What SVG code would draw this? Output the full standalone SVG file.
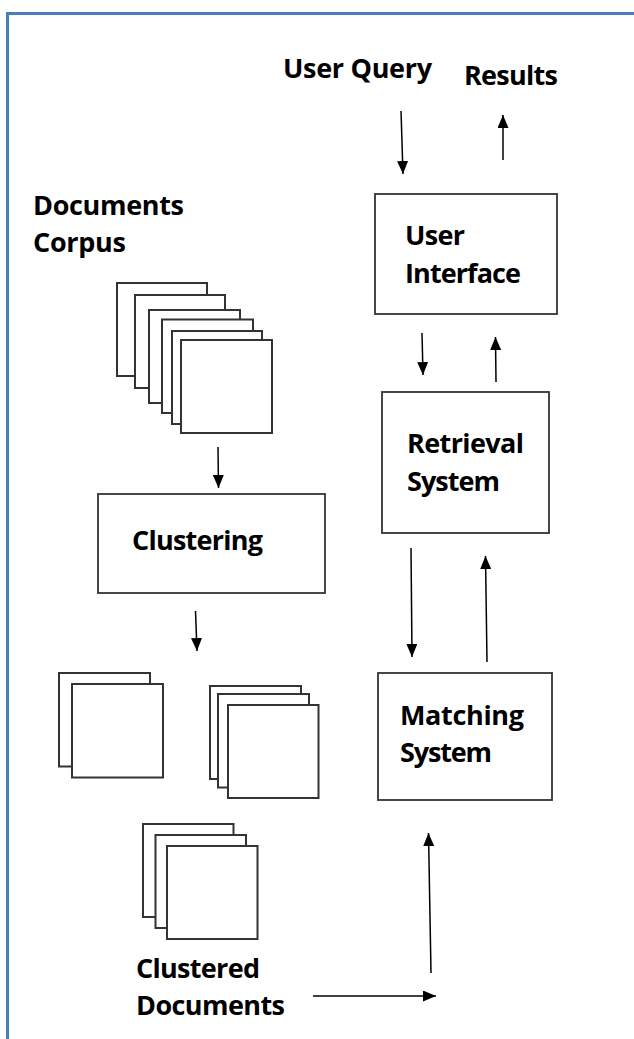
<svg xmlns="http://www.w3.org/2000/svg" width="634" height="1039" viewBox="0 0 634 1039">
  <style>
    .box { fill: #ffffff; stroke: #333333; stroke-width: 1.8; }
    .sheet { fill: #ffffff; stroke: #333333; stroke-width: 2; }
    .lbl { font-family: "Open Sans", "Liberation Sans", sans-serif; font-weight: 700; font-size: 27px; fill: #000000; }
    .arrow { stroke: #000000; stroke-width: 1.5; fill: none; marker-end: url(#head); }
  </style>
  <defs>
    <marker id="head" markerUnits="userSpaceOnUse" markerWidth="13" markerHeight="11" refX="13" refY="5.5" orient="auto">
      <path d="M0,0 L13,5.5 L0,11 z" fill="#000000"/>
    </marker>
  </defs>

  <rect x="0" y="0" width="634" height="1039" fill="#ffffff"/>
  <!-- frame (top and left edges only) -->
  <path d="M7.5,1039 L7.5,13.5 L634,13.5" fill="none" stroke="#4a7ebb" stroke-width="3"/>

  <!-- top labels -->
  <g id="user-query">
    <text class="lbl" x="283" y="78" textLength="149">User Query</text>
  </g>
  <g id="results">
    <text class="lbl" x="464" y="85" textLength="94">Results</text>
  </g>

  <!-- document corpus -->
  <g id="documents-corpus">
    <text class="lbl" x="33" y="215" textLength="151">Documents</text>
    <text class="lbl" x="33" y="252" textLength="93">Corpus</text>
    <rect class="sheet" x="117" y="283" width="90" height="93"/>
    <rect class="sheet" x="135" y="295" width="90" height="93"/>
    <rect class="sheet" x="149" y="310" width="91" height="93"/>
    <rect class="sheet" x="162" y="319.5" width="91" height="93.5"/>
    <rect class="sheet" x="172" y="331" width="90" height="93"/>
    <rect class="sheet" x="181" y="340" width="91" height="93"/>
  </g>

  <g id="clustering">
    <rect class="box" x="98" y="494" width="227" height="99"/>
    <text class="lbl" x="132" y="550" textLength="131">Clustering</text>
  </g>

  <!-- clustered document groups -->
  <g id="cluster-a">
    <rect class="sheet" x="59" y="673" width="91" height="93.5"/>
    <rect class="sheet" x="72" y="684" width="91" height="93.5"/>
  </g>
  <g id="cluster-b">
    <rect class="sheet" x="210" y="686" width="91" height="93"/>
    <rect class="sheet" x="218" y="694" width="91" height="93.5"/>
    <rect class="sheet" x="228" y="705" width="90.5" height="93"/>
  </g>
  <g id="cluster-c">
    <rect class="sheet" x="143" y="824" width="90.5" height="93"/>
    <rect class="sheet" x="155.5" y="835" width="90.5" height="93"/>
    <rect class="sheet" x="167" y="846" width="90.5" height="93"/>
  </g>
  <g id="clustered-documents">
    <text class="lbl" x="136" y="978" textLength="124">Clustered</text>
    <text class="lbl" x="136" y="1015" textLength="149">Documents</text>
  </g>

  <!-- retrieval side -->
  <g id="user-interface">
    <rect class="box" x="375" y="194" width="182" height="120"/>
    <text class="lbl" x="405" y="245" textLength="60">User</text>
    <text class="lbl" x="405" y="283" textLength="116">Interface</text>
  </g>
  <g id="retrieval-system">
    <rect class="box" x="382" y="392" width="167" height="141"/>
    <text class="lbl" x="407" y="453" textLength="117">Retrieval</text>
    <text class="lbl" x="407" y="491" textLength="93">System</text>
  </g>
  <g id="matching-system">
    <rect class="box" x="378" y="673" width="174" height="127"/>
    <text class="lbl" x="400" y="725" textLength="124">Matching</text>
    <text class="lbl" x="400" y="762" textLength="92">System</text>
  </g>

  <g id="connectors">
    <line class="arrow" x1="401" y1="111" x2="403" y2="174"/>
    <line class="arrow" x1="503" y1="160" x2="503" y2="115"/>
    <line class="arrow" x1="422" y1="333" x2="423" y2="375"/>
    <line class="arrow" x1="496" y1="382" x2="495.5" y2="337"/>
    <line class="arrow" x1="411" y1="548" x2="412" y2="657"/>
    <line class="arrow" x1="487" y1="662" x2="485.5" y2="556"/>
    <line class="arrow" x1="218" y1="447" x2="218.5" y2="488"/>
    <line class="arrow" x1="195.5" y1="611" x2="197" y2="651"/>
    <line class="arrow" x1="313" y1="996" x2="436" y2="996"/>
    <line class="arrow" x1="431" y1="973" x2="428.5" y2="833"/>
  </g>
</svg>
